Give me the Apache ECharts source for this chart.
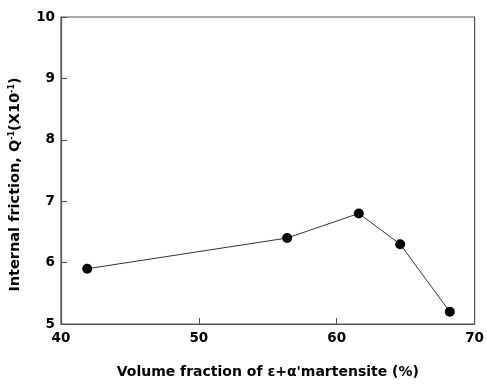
<!DOCTYPE html>
<html><head><meta charset="utf-8">
<script src="https://cdn.jsdelivr.net/npm/echarts@6/dist/echarts.min.js"></script>
<style>html,body{margin:0;padding:0;background:#fff}#c{width:487px;height:384px}</style>
</head><body><div id="c"></div>
<script>
const xValues = [41.9, 56.4, 61.6, 64.6, 68.2];
const yValues = [5.9, 6.4, 6.8, 6.3, 5.2];
const xTicks = [40, 50, 60, 70];
const yTicks = [5, 6, 7, 8, 9, 10];

const chart = echarts.init(document.getElementById('c'));
const font = 'DejaVu Sans, Liberation Sans, Arial, sans-serif';
chart.setOption({
  animation: false,
  grid: {left: 60, right: 7, top: 17, bottom: 57, show: true, borderColor: '#555', borderWidth: 1.2, backgroundColor: 'transparent'},
  xAxis: {
    type: 'value', min: xTicks[0], max: xTicks[xTicks.length - 1], interval: 10,
    name: 'Volume fraction of ε+α\'martensite (%)',
    nameLocation: 'middle', nameGap: 41,
    nameTextStyle: {fontFamily: font, fontWeight: 'bold', fontSize: 14, color: '#000'},
    axisLine: {show: true, lineStyle: {color: '#555', width: 1.2}},
    axisTick: {show: true, inside: true, length: 6, lineStyle: {color: '#555'}},
    axisLabel: {fontFamily: font, fontWeight: 'bold', fontSize: 13.5, color: '#000', margin: 7},
    splitLine: {show: false}
  },
  yAxis: {
    type: 'value', min: yTicks[0], max: yTicks[yTicks.length - 1], interval: 1,
    name: '{n|Internal friction, Q}{s|-1}{n|(X10}{s|-1}{n|)}',
    nameLocation: 'middle', nameGap: 38, nameRotate: 90,
    nameTextStyle: {
      padding: [0, 28, 0, 0],
      rich: {
        n: {fontFamily: font, fontWeight: 'bold', fontSize: 14.5, color: '#000'},
        s: {fontFamily: font, fontWeight: 'bold', fontSize: 8, color: '#000', verticalAlign: 'top', padding: [0,0,6,0]}
      }
    },
    axisLine: {show: true, lineStyle: {color: '#555', width: 1.2}},
    axisTick: {show: true, inside: true, length: 6, lineStyle: {color: '#555'}},
    axisLabel: {fontFamily: font, fontWeight: 'bold', fontSize: 13.5, color: '#000', margin: 6},
    splitLine: {show: false}
  },
  series: [{
    type: 'line',
    data: xValues.map((x, i) => [x, yValues[i]]),
    symbol: 'circle', symbolSize: 10,
    itemStyle: {color: '#000'},
    lineStyle: {color: '#333', width: 1}
  }]
});
</script></body></html>
